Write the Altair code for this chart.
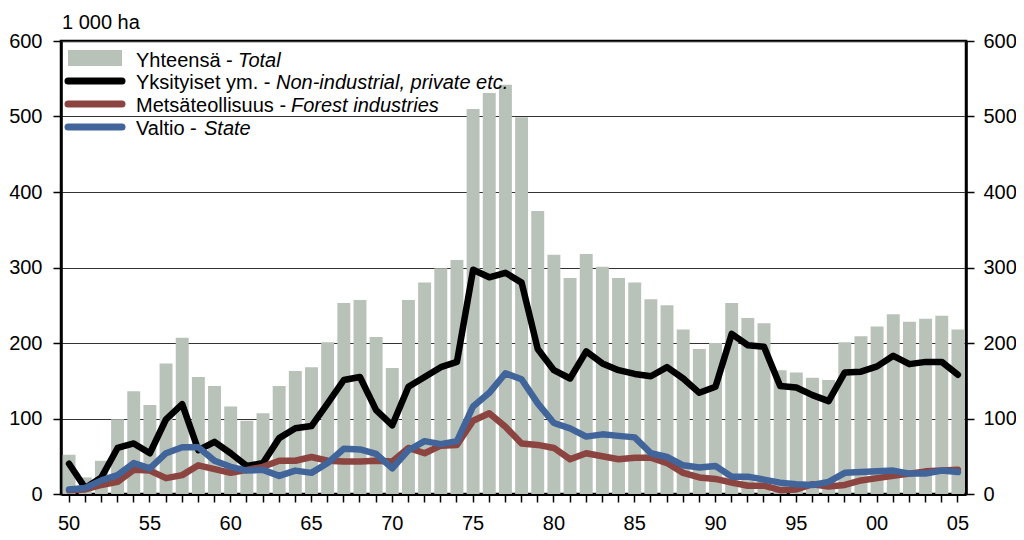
import altair as alt
import pandas as pd

years = list(range(1950, 2006))
total = [52, 22, 44, 99, 136, 118, 173, 207, 155, 143,
         116, 97, 107, 143, 163, 168, 201, 253, 257, 208,
         167, 257, 280, 299, 310, 510, 531, 542, 499, 375,
         317, 286, 318, 301, 286, 280, 258, 250, 218, 192,
         200, 253, 233, 226, 164, 161, 154, 151, 201, 209,
         222, 238, 228, 232, 236, 218]
private = [40, 8, 22, 61, 67, 54, 99, 119, 58, 69,
           54, 37, 41, 74, 87, 90, 120, 151, 155, 111,
           91, 142, 155, 168, 175, 297, 287, 293, 280, 192,
           164, 153, 189, 173, 164, 159, 156, 168, 153, 134,
           142, 212, 197, 195, 143, 141, 131, 123, 161, 162,
           169, 183, 172, 175, 175, 158]
industry = [5, 6, 12, 16, 32, 31, 21, 25, 38, 33,
            28, 32, 36, 44, 44, 49, 44, 43, 43, 44,
            43, 61, 54, 64, 65, 97, 107, 89, 67, 65,
            61, 46, 54, 50, 46, 48, 48, 41, 28, 22,
            20, 15, 11, 11, 5, 6, 13, 10, 12, 18,
            21, 24, 27, 30, 31, 32]
state = [6, 8, 18, 25, 41, 34, 54, 62, 62, 44,
         36, 31, 32, 24, 31, 28, 41, 60, 59, 53,
         34, 58, 70, 66, 70, 116, 134, 160, 152, 120,
         94, 87, 76, 79, 77, 75, 54, 49, 38, 35,
         37, 23, 23, 19, 15, 13, 12, 16, 28, 29,
         30, 31, 27, 27, 31, 29]

legend_normal = ["Yhteensä - ", "Yksityiset ym. - ", "Metsäteollisuus - ", "Valtio - "]
legend_italic = ["Total", "Non-industrial, private etc.", "Forest industries", "State"]
unit_label = "1 000 ha"

FONT = "Liberation Sans"
FS = 20
BAR = "#b8c2b8"
BLACK = "#000000"
RED = "#8b4440"
BLUE = "#41659a"

df = pd.DataFrame({"year": years, "total": total, "private": private,
                   "industry": industry, "state": state})

yscale = alt.Scale(domain=[0, 600], nice=False, zero=True)
ticks = [0, 100, 200, 300, 400, 500, 600]

xenc = alt.X("year:O", title=None,
             scale=alt.Scale(paddingInner=0.2, paddingOuter=0.1),
             axis=alt.Axis(labelExpr="datum.value % 5 == 0 ? slice(toString(datum.value), 2) : ''",
                           labelAngle=0, labelFont=FONT, labelFontSize=FS, labelColor="black",
                           domainColor="black", domainWidth=3, tickColor="black", tickWidth=1.5,
                           tickSize=8, labelPadding=11, grid=False, labelOverlap=False))

base = alt.Chart(df)

bars = base.mark_bar(color=BAR).encode(
    x=xenc,
    y=alt.Y("total:Q", scale=yscale, title=None,
            axis=alt.Axis(orient="left", values=ticks, labelFont=FONT, labelFontSize=FS,
                          labelColor="black", domainColor="black", domainWidth=2.5,
                          tickColor="black", tickWidth=1.5, tickSize=8, labelPadding=11,
                          grid=True, gridColor="#333333", gridWidth=1)),
)

def line(field, color, axis):
    return base.mark_line(color=color, strokeWidth=6.5, strokeCap="round", strokeJoin="round").encode(
        x=xenc, y=alt.Y(f"{field}:Q", scale=yscale, title=None, axis=axis))

right_axis = alt.Axis(orient="right", values=ticks, labelFont=FONT, labelFontSize=FS,
                      labelColor="black", domainColor="black", domainWidth=2.5,
                      tickColor="black", tickWidth=1.5, tickSize=8, labelPadding=9, grid=False)

l_priv = line("private", BLACK, right_axis)
l_ind = line("industry", RED, None)
l_state = line("state", BLUE, None)

one = alt.Data(values=[{"k": 1}])

leg_layers = []
leg_layers.append(alt.Chart(one).mark_rect(color=BAR).encode(
    x=alt.value(7), x2=alt.value(61), y=alt.value(9), y2=alt.value(25)))
line_colors = [BLACK, RED, BLUE]
line_ys = [40, 63, 86]
for c, yy in zip(line_colors, line_ys):
    leg_layers.append(alt.Chart(one).mark_rule(color=c, strokeWidth=7, strokeCap="round").encode(
        x=alt.value(7), x2=alt.value(61), y=alt.value(yy)))
text_base = [26, 48, 71, 94]
italic_x = [177, 215, 230, 143]
for i in range(4):
    leg_layers.append(alt.Chart(one).mark_text(
        text=legend_normal[i], font=FONT, fontSize=FS, align="left", baseline="alphabetic",
        color="black").encode(x=alt.value(75), y=alt.value(text_base[i])))
    leg_layers.append(alt.Chart(one).mark_text(
        text=legend_italic[i], font=FONT, fontSize=FS, fontStyle="italic", align="left",
        baseline="alphabetic", color="black").encode(x=alt.value(italic_x[i]), y=alt.value(text_base[i])))

unit = alt.Chart(one).mark_text(text=unit_label, font=FONT, fontSize=FS, align="left",
                                baseline="alphabetic", color="black").encode(
    x=alt.value(1), y=alt.value(-12))

chart = alt.layer(bars, l_priv, l_ind, l_state, *leg_layers, unit).resolve_axis(
    y="independent").properties(
    width=905, height=453,
    autosize=alt.AutoSizeParams(type="none"),
    padding={"left": 53, "top": 33, "right": 50, "bottom": 38},
).configure_view(stroke="black", strokeWidth=2.5)

chart.save("out.html", embed_options={"renderer": "svg", "actions": False})
